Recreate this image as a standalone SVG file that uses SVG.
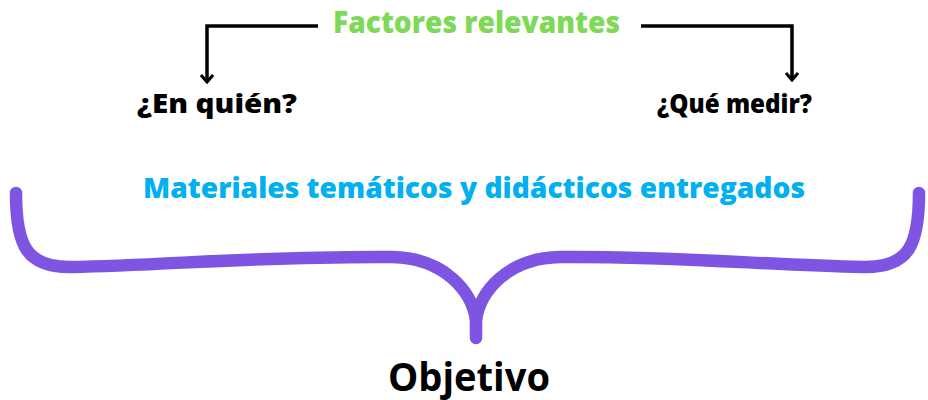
<svg xmlns="http://www.w3.org/2000/svg" width="928" height="400" viewBox="0 0 928 400">
<style>
.t{font-family:"Open Sans","Liberation Sans",sans-serif;font-weight:800}
.c{fill:none;stroke:#000;stroke-width:3.5;stroke-linejoin:miter}
.b{fill:none;stroke:#7E55E2;stroke-width:12.5;stroke-linecap:round;stroke-linejoin:round}
</style>
<defs>
<marker id="ah" viewBox="0 0 14 14" refX="12" refY="7" markerWidth="14" markerHeight="14" markerUnits="userSpaceOnUse" orient="auto">
<path d="M5,1 L12,7 L5,13" fill="none" stroke="#000" stroke-width="3"/>
</marker>
</defs>
<rect width="928" height="400" fill="#fff"/>
<g id="connectors">
<path class="c" d="M318,26 H207 V82" marker-end="url(#ah)"/>
<path class="c" d="M641,26 H792 V80" marker-end="url(#ah)"/>
</g>
<g id="factores"><text class="t" x="333" y="33" font-size="30" fill="#7ED957" textLength="287" lengthAdjust="spacingAndGlyphs">Factores relevantes</text></g>
<g id="enquien"><text class="t" x="137" y="113" font-size="26" fill="#000" textLength="160" lengthAdjust="spacingAndGlyphs">¿En quién?</text></g>
<g id="quemedir"><text class="t" x="657" y="113" font-size="26" fill="#000" textLength="155" lengthAdjust="spacingAndGlyphs">¿Qué medir?</text></g>
<g id="materiales"><text class="t" x="143" y="198" font-size="29" fill="#00B0F0" textLength="662" lengthAdjust="spacingAndGlyphs">Materiales temáticos y didácticos entregados</text></g>
<g id="brace">
<path class="b" d="M16,193 C16,245 26,268 72,267 C170,265 260,256 392,257 C445,258 472,292 476,320 L476,338"/>
<path class="b" d="M919,193 C919,245 909,268 863,267 C765,265 675,256 560,257 C507,258 480,292 476,320"/>
</g>
<g id="objetivo"><text class="t" x="388" y="391" font-size="40" fill="#000" textLength="162" lengthAdjust="spacingAndGlyphs" style="font-weight:700">Objetivo</text></g>
</svg>
